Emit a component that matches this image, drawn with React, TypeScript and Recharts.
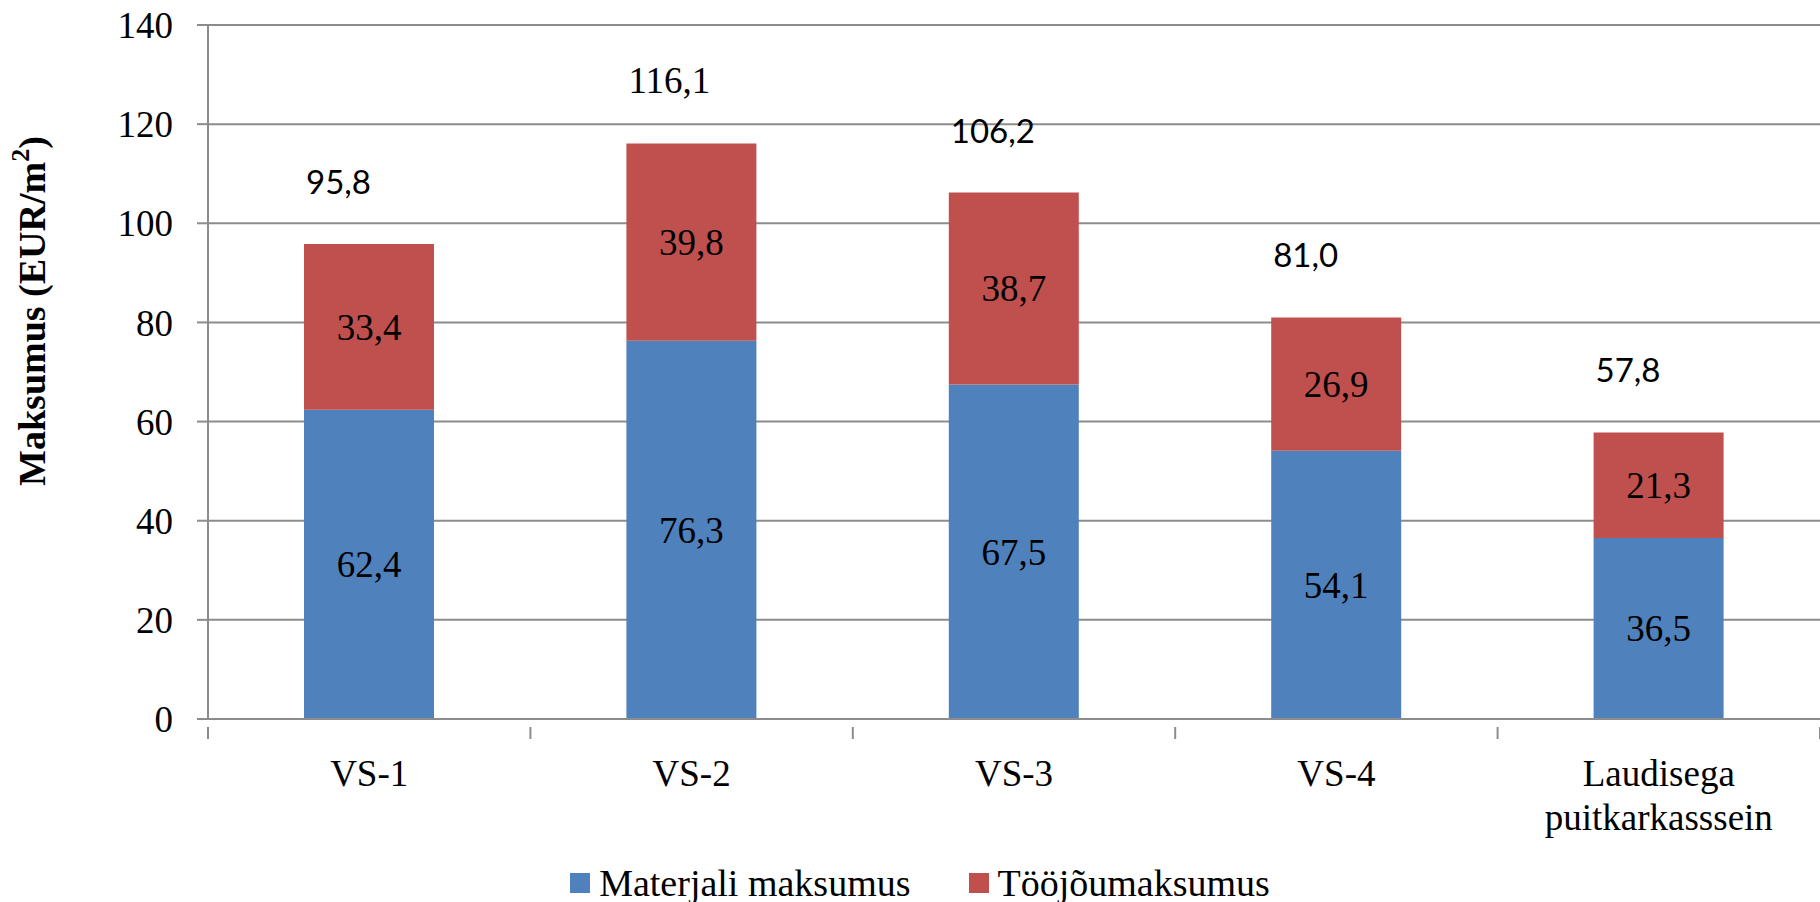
import { BarChart, Bar, XAxis, YAxis, CartesianGrid, LabelList, Legend } from 'recharts'

const categories = ['VS-1', 'VS-2', 'VS-3', 'VS-4', 'Laudisega\npuitkarkasssein']
const materialCost = [62.4, 76.3, 67.5, 54.1, 36.5]
const laborCost = [33.4, 39.8, 38.7, 26.9, 21.3]
const totals = [95.8, 116.1, 106.2, 81.0, 57.8]
const yTicks = [0, 20, 40, 60, 80, 100, 120, 140]

const seriesNames = { material: 'Materjali maksumus', labor: 'Tööjõumaksumus' }
const BLUE = '#4F81BD'
const RED = '#C0504D'
const GRID = '#8C8C8C'
const SERIF = '"Liberation Serif", "DejaVu Serif", serif'
const SANS = 'Lato, "Liberation Sans", sans-serif'
// in the original only the VS-2 total is set in the serif face
const sansTotals = new Set([0, 2, 3, 4])

const W = 1820
const H = 902
const PLOT_LEFT = 208

const data = categories.map((name, i) => ({
  name,
  material: materialCost[i],
  labor: laborCost[i],
  total: totals[i],
}))

const fmt = (v: number) => v.toFixed(1).replace('.', ',')

function CategoryTick(props: any) {
  const { x, y, payload, index } = props
  const half = payload?.offset ?? (W - PLOT_LEFT) / categories.length / 2
  const lines = String(payload.value).split('\n')
  return (
    <g>
      <line x1={x - half} x2={x - half} y1={y} y2={y + 12} stroke={GRID} strokeWidth={2} />
      {index === categories.length - 1 && (
        <line x1={x + half} x2={x + half} y1={y} y2={y + 12} stroke={GRID} strokeWidth={2} />
      )}
      <text x={x} y={y + 59} textAnchor="middle" fontFamily={SERIF} fontSize={37} fill="#000">
        {lines.map((l, i) => (
          <tspan key={i} x={x} dy={i === 0 ? 0 : 44}>{l}</tspan>
        ))}
      </text>
    </g>
  )
}

function SegmentLabel(props: any) {
  const { x, y, width, height, value } = props
  return (
    <text
      x={x + width / 2}
      y={y + height / 2}
      dy="0.35em"
      textAnchor="middle"
      fontFamily={SERIF}
      fontSize={37}
      fill="#000"
    >
      {fmt(value)}
    </text>
  )
}

function TotalLabel(props: any) {
  const { x, y, index } = props
  const sans = sansTotals.has(index)
  return (
    <text
      x={x + 2}
      y={y - 50}
      textAnchor="start"
      fontFamily={sans ? SANS : SERIF}
      fontSize={sans ? 33 : 37}
      fill="#000"
    >
      {fmt(totals[index])}
    </text>
  )
}

function LegendContent() {
  const items = [
    { label: seriesNames.material, color: BLUE },
    { label: seriesNames.labor, color: RED },
  ]
  return (
    <div style={{ display: 'flex', justifyContent: 'center', alignItems: 'center', height: 44, paddingLeft: 20 }}>
      {items.map((it, i) => (
        <div key={i} style={{ display: 'flex', alignItems: 'center', marginRight: i === 0 ? 58 : 0 }}>
          <span style={{ width: 20, height: 20, background: it.color, display: 'inline-block', marginRight: 9 }} />
          <span style={{ fontFamily: SERIF, fontSize: 38, lineHeight: '44px', color: '#000' }}>{it.label}</span>
        </div>
      ))}
    </div>
  )
}

export default function App() {
  return (
    <div style={{ width: W, height: H, background: '#fff' }}>
      <style>{`body{margin:0}`}</style>
      <BarChart
        width={W}
        height={H}
        data={data}
        margin={{ top: 25, right: 0, left: 0, bottom: 0 }}
        barSize={130}
      >
        <CartesianGrid vertical={false} stroke={GRID} strokeWidth={2} />
        <XAxis
          dataKey="name"
          axisLine={{ stroke: GRID, strokeWidth: 2 }}
          tickLine={false}
          tick={<CategoryTick />}
          interval={0}
          height={183}
        />
        <YAxis
          domain={[0, 140]}
          ticks={yTicks}
          width={PLOT_LEFT}
          axisLine={{ stroke: GRID, strokeWidth: 2 }}
          tickLine={{ stroke: GRID, strokeWidth: 2 }}
          tickSize={11}
          tickMargin={24}
          tick={{ fontFamily: SERIF, fontSize: 37, fill: '#000' }}
          label={{
            content: () => (
              <text
                x={32}
                y={311}
                transform="rotate(-90, 32, 311)"
                textAnchor="middle"
                dominantBaseline="central"
                fontFamily={SERIF}
                fontWeight="bold"
                fontSize={38}
                fill="#000"
              >
                Maksumus (EUR/m<tspan dy={-12} fontSize={26}>2</tspan><tspan dy={12}>)</tspan>
              </text>
            ),
          }}
        />
        <Legend
          layout="horizontal"
          verticalAlign="middle"
          align="center"
          content={<LegendContent />}
          wrapperStyle={{ top: 861, left: 0, width: W }}
        />
        <Bar dataKey="material" stackId="a" fill={BLUE} name={seriesNames.material} isAnimationActive={false}>
          <LabelList dataKey="material" content={<SegmentLabel />} />
        </Bar>
        <Bar dataKey="labor" stackId="a" fill={RED} name={seriesNames.labor} isAnimationActive={false}>
          <LabelList dataKey="labor" content={<SegmentLabel />} />
          <LabelList dataKey="total" content={<TotalLabel />} />
        </Bar>
      </BarChart>
    </div>
  )
}
